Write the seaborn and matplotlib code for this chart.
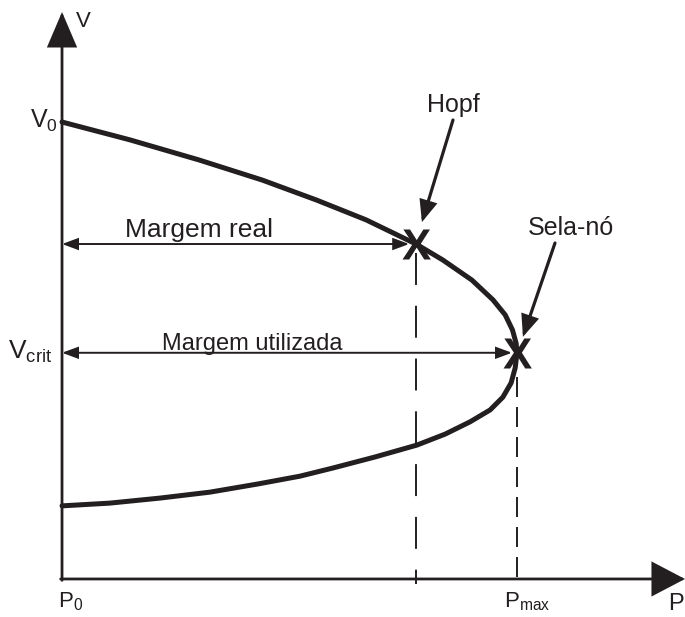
import numpy as np
import pandas as pd
import matplotlib
matplotlib.use("Agg")
import matplotlib.pyplot as plt
import seaborn as sns
from matplotlib.textpath import TextPath
from matplotlib.font_manager import FontProperties
from matplotlib.path import Path

# Curva PV (nariz), valores normalizados: Pmax = 1, V0 = 1
p_superior = [0.000, 0.149, 0.301, 0.440, 0.560, 0.668, 0.778, 0.837, 0.901, 0.947, 0.974, 0.990, 0.998, 1.000]
v_superior = [1.000, 0.961, 0.917, 0.873, 0.829, 0.786, 0.733, 0.698, 0.654, 0.611, 0.578, 0.545, 0.516, 0.495]
p_inferior = [1.000, 0.996, 0.987, 0.969, 0.941, 0.897, 0.842, 0.780, 0.688, 0.596, 0.523, 0.431, 0.325, 0.215, 0.105, 0.000]
v_inferior = [0.495, 0.462, 0.429, 0.398, 0.370, 0.344, 0.317, 0.293, 0.267, 0.243, 0.225, 0.208, 0.190, 0.177, 0.166, 0.160]

# Pontos notáveis
p_hopf, v_hopf = 0.778, 0.733
p_max, v_crit = 1.000, 0.495
v0 = 1.000

rotulos_eixos = ["V", "P"]
rotulos_pontos = ["Hopf", "Sela-nó"]
rotulos_margens = ["Margem real", "Margem utilizada"]

sns.set_theme(style="white")
plt.rcParams["font.family"] = ["Liberation Sans", "DejaVu Sans"]
plt.rcParams["mathtext.fontset"] = "custom"
plt.rcParams["mathtext.rm"] = "Liberation Sans"
plt.rcParams["mathtext.it"] = "Liberation Sans:italic"
plt.rcParams["lines.scale_dashes"] = False

INK = "#231f20"
W, H = 685, 617

fig = plt.figure(figsize=(W / 100, H / 100), dpi=100)
ax = fig.add_axes([0, 0, 1, 1])
ax.set_xlim(-0.1363, 1.3692)
ax.set_ylim(-0.0832, 1.2670)
ax.axis("off")


def fpx(x, y):
    """Posição em pixels da figura (origem no canto superior esquerdo)."""
    return (x, H - y)


def seta(xy, xytext, estilo, lw, hl, hw, coords="data"):
    ax.annotate("", xy=xy, xytext=xytext, xycoords="data", textcoords=coords,
                annotation_clip=False,
                arrowprops=dict(arrowstyle=f"{estilo},head_length={hl},head_width={hw}",
                                lw=lw, color=INK, shrinkA=0, shrinkB=0,
                                mutation_scale=1, joinstyle="miter"))


# Eixos com setas
seta((0, 1.2407), (0, -0.003), "-|>", 2.0, 22, 9.4)
seta((1.3692, 0), (-0.003, 0), "-|>", 2.0, 21, 11)

# Curva PV
curva = pd.DataFrame({"P": p_superior + p_inferior[1:],
                      "V": v_superior + v_inferior[1:]})
sns.lineplot(data=curva, x="P", y="V", sort=False, estimator=None,
             color=INK, lw=3.6, ax=ax, solid_joinstyle="round", zorder=3)

# Linhas de projeção tracejadas
ax.plot([p_hopf, p_hopf], [v_hopf - 0.02, -0.012], color=INK, lw=1.4, dashes=(23, 15))
ax.plot([p_max, p_max], [v_crit - 0.053, -0.012], color=INK, lw=1.4, dashes=(14.4, 7.2))

# Marcadores "X" nos pontos de Hopf e sela-nó
fp = FontProperties(family="Liberation Sans", weight="bold")
tp = TextPath((0, 0), "X", prop=fp)
verts = tp.vertices
centro = (verts.min(axis=0) + verts.max(axis=0)) / 2
marcador_x = Path(verts - centro, tp.codes)
pontos = pd.DataFrame({"P": [p_hopf, p_max], "V": [v_hopf, v_crit]})
sns.scatterplot(data=pontos, x="P", y="V", marker=marcador_x, s=467,
                color=INK, linewidth=0, ax=ax, zorder=5)

# Margens
seta((p_hopf - 0.015, v_hopf), (0, v_hopf), "<|-|>", 1.4, 9.5, 3.5)
seta((p_max - 0.011, v_crit), (0, v_crit), "<|-|>", 1.4, 9.5, 3.5)
ax.text(*fpx(125, 237), rotulos_margens[0], transform=None, fontsize=19,
        color=INK, ha="left", va="baseline")
ax.text(*fpx(162, 350), rotulos_margens[1], transform=None, fontsize=17,
        color=INK, ha="left", va="baseline")

# Setas indicativas
seta((p_hopf + 0.013, v_hopf + 0.048), fpx(453, 120), "-|>", 2.3, 12, 5,
     coords="figure pixels")
seta((p_max + 0.013, v_crit + 0.035), fpx(555, 243), "-|>", 2.3, 12, 5,
     coords="figure pixels")
ax.text(*fpx(453, 112), rotulos_pontos[0], transform=None, fontsize=18,
        color=INK, ha="center", va="baseline")
ax.text(*fpx(528, 235), rotulos_pontos[1], transform=None, fontsize=18,
        color=INK, ha="left", va="baseline")

# Rótulos dos eixos e valores de referência
ax.text(*fpx(76, 27), rotulos_eixos[0], transform=None, fontsize=16,
        color=INK, ha="left", va="baseline")
ax.text(*fpx(668, 610), rotulos_eixos[1], transform=None, fontsize=17,
        color=INK, ha="left", va="baseline")
ax.text(*fpx(58, 128), r"V$_0$", transform=None, fontsize=18,
        color=INK, ha="right", va="baseline")
ax.text(*fpx(52, 359), r"V$_{\mathregular{crit}}$", transform=None, fontsize=19,
        color=INK, ha="right", va="baseline")
ax.text(*fpx(58, 607), r"P$_0$", transform=None, fontsize=16,
        color=INK, ha="left", va="baseline")
ax.text(*fpx(504, 607), r"P$_{\mathregular{max}}$", transform=None, fontsize=16,
        color=INK, ha="left", va="baseline")

fig.savefig("out.png", dpi=100, facecolor="white")
